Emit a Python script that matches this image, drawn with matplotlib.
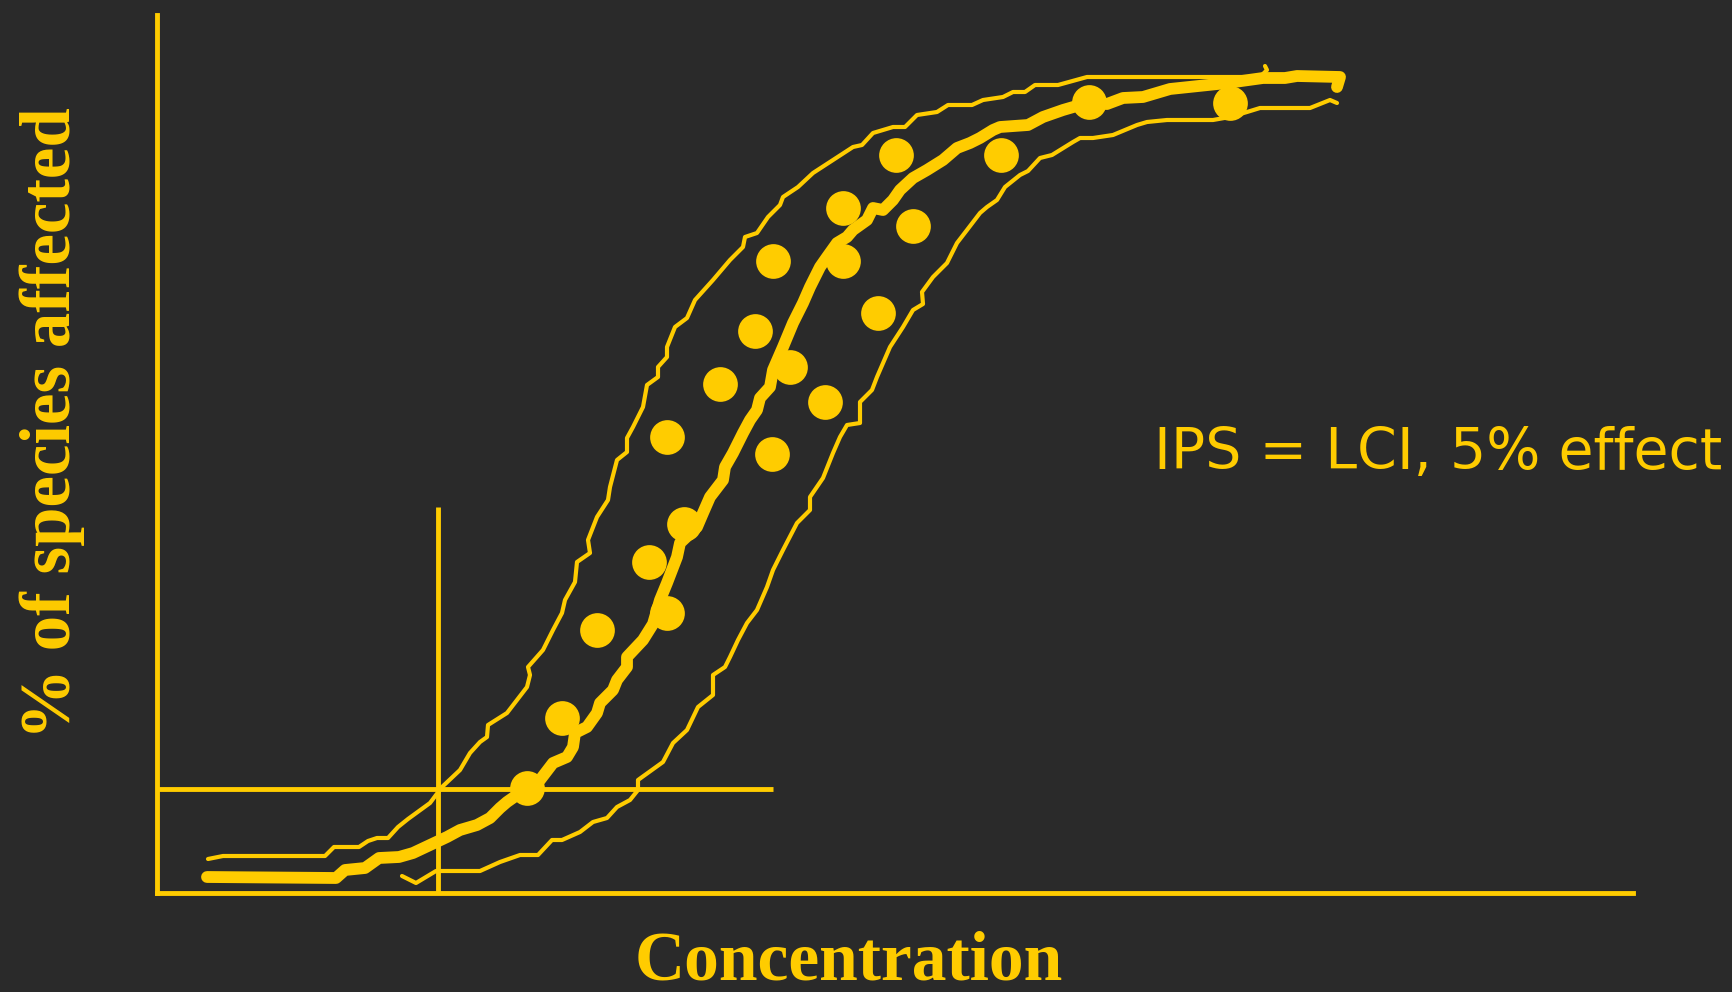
import matplotlib
matplotlib.use("Agg")
import matplotlib.pyplot as plt

# Species sensitivity distribution sketch: fitted curve, confidence band, species points
BG = "#2a2a2a"
YELLOW = "#ffcc00"

# Upper confidence limit (x: concentration units, y: % of species affected)
upper_x = [5.5, 7.0, 17.2, 18.1, 20.6, 21.5, 22.4, 23.5, 24.5, 25.5, 27.7, 28.9, 30.7, 31.7,
           32.7, 33.4, 33.5, 35.4, 36.4, 37.4, 37.7, 37.5, 39.0, 40.0, 40.9, 41.2, 42.2, 42.4,
           43.7, 43.5, 44.4, 45.5, 45.7, 46.4, 47.4, 47.4, 48.0, 49.0, 49.4, 50.5, 50.5, 51.4,
           51.4, 52.2, 53.4, 54.2, 56.0, 57.7, 59.0, 59.2, 60.4, 61.5, 62.7, 63.0, 64.5, 66.0,
           68.0, 70.0, 70.9, 72.0, 74.0, 75.2, 76.4, 78.4, 79.5, 81.9, 83.0, 85.0, 86.0, 87.2,
           88.2, 90.5, 93.4, 110.7, 111.4, 111.2]
upper_y = [3.4, 3.7, 3.7, 4.6, 4.6, 5.2, 5.5, 5.5, 6.6, 7.4, 9.0, 10.6, 12.3, 14.0,
           15.1, 15.6, 16.8, 18.0, 19.3, 20.6, 21.8, 22.6, 24.3, 26.3, 28.0, 29.3, 31.1, 33.1,
           34.0, 35.3, 37.6, 39.3, 40.6, 43.3, 44.1, 45.5, 46.6, 48.6, 50.8, 51.6, 52.6, 53.6,
           54.6, 56.6, 57.5, 59.3, 61.3, 63.3, 64.6, 65.6, 66.0, 67.6, 68.8, 69.6, 70.6, 72.0,
           73.3, 74.6, 74.8, 76.0, 76.6, 76.6, 77.8, 78.1, 78.8, 78.8, 79.3, 79.6, 80.1, 80.1,
           80.8, 80.8, 81.6, 81.6, 82.3, 82.7]

# Fitted distribution
fit_x = [5.4, 18.3, 19.2, 21.2, 22.6, 24.6, 26.0, 27.7, 29.4, 30.7, 32.4, 33.7, 34.7, 35.4,
         36.4, 37.4, 38.7, 40.0, 41.4, 42.0, 42.2, 43.4, 44.4, 44.7, 46.0, 46.4, 47.4, 47.4,
         49.0, 50.0, 50.7, 51.4, 52.4, 52.7, 54.4, 55.0, 55.7, 57.0, 57.2, 58.0, 59.0, 59.7,
         60.4, 60.7, 61.7, 62.0, 63.0, 64.0, 65.0, 65.7, 66.7, 67.4, 68.4, 69.4, 70.0, 71.4,
         72.0, 73.0, 74.0, 74.7, 76.0, 77.4, 79.0, 80.4, 81.7, 82.7, 84.0, 84.7, 87.5, 89.0,
         91.0, 93.4, 95.4, 97.0, 99.0, 101.7, 107.4, 111.0, 113.2, 114.4, 118.7, 118.4]
fit_y = [1.6, 1.5, 2.3, 2.5, 3.5, 3.6, 4.0, 4.8, 5.6, 6.3, 6.8, 7.5, 8.5, 9.1,
         9.8, 10.3, 11.3, 13.0, 13.6, 14.6, 16.0, 16.6, 18.0, 19.0, 20.3, 21.3, 22.6, 23.6,
         25.3, 26.9, 29.3, 31.0, 33.6, 35.0, 36.6, 38.0, 39.6, 41.3, 42.6, 44.0, 46.0, 47.3,
         48.3, 49.5, 50.6, 52.3, 54.6, 57.0, 59.0, 60.6, 62.6, 63.6, 65.0, 65.6, 66.3, 67.3,
         68.5, 68.3, 69.3, 70.3, 71.5, 72.3, 73.3, 74.5, 75.0, 75.5, 76.3, 76.6, 76.8, 77.6,
         78.3, 79.0, 78.9, 79.5, 79.6, 80.4, 81.0, 81.5, 81.5, 81.7, 81.6, 80.6]

# Lower confidence limit
lower_x = [24.9, 26.3, 28.3, 32.7, 34.7, 36.7, 38.5, 39.9, 40.9, 42.7, 44.0, 45.4, 46.4, 47.7,
           48.5, 48.5, 51.0, 52.0, 53.4, 54.5, 56.0, 56.0, 57.2, 57.7, 58.5, 59.4, 60.4, 61.4,
           62.0, 63.0, 64.4, 65.7, 65.7, 67.0, 68.0, 68.7, 69.4, 70.7, 70.7, 71.9, 72.4, 73.7,
           75.0, 76.0, 77.0, 76.9, 78.0, 79.4, 80.4, 81.4, 82.7, 83.4, 84.4, 85.2, 86.7, 87.5,
           88.7, 89.9, 92.0, 92.7, 94.0, 96.0, 97.2, 98.4, 99.4, 101.4, 106.0, 107.7, 109.4,
           110.7, 115.7, 117.7, 118.4]
lower_y = [1.7, 1.0, 2.2, 2.2, 3.1, 3.8, 3.8, 5.3, 5.3, 6.1, 7.1, 7.5, 8.6, 9.3,
           10.3, 11.3, 13.1, 15.0, 16.3, 18.6, 19.8, 21.8, 22.6, 23.6, 25.3, 27.0, 28.3, 30.6,
           32.3, 34.3, 37.0, 38.3, 39.6, 41.5, 44.0, 45.6, 46.8, 47.0, 49.1, 50.3, 51.6, 54.6,
           56.6, 58.3, 58.9, 60.1, 61.6, 63.0, 65.0, 66.3, 68.0, 68.6, 69.3, 70.6, 71.8, 72.2,
           73.5, 73.8, 75.1, 75.5, 75.5, 75.8, 76.3, 76.8, 77.1, 77.3, 77.3, 77.6, 78.1,
           78.5, 78.5, 79.3, 79.0]

# Individual species toxicity data
species_x = [37.4, 40.9, 44.4, 49.6, 51.4, 53.1, 51.4, 56.7, 60.2, 61.9, 63.7,
             67.2, 62.0, 69.0, 69.0, 72.5, 74.3, 76.0, 84.8, 93.6, 107.7]
species_y = [10.5, 17.5, 26.3, 33.1, 28.0, 36.9, 45.6, 50.9, 56.2, 43.9, 52.6,
             49.1, 63.2, 68.5, 63.2, 58.0, 73.8, 66.7, 73.8, 79.1, 79.0]

# Protection level and the matching concentration
effect_level = 10.4
effect_conc = 28.5
guide_x_end = 62.0
guide_y_end = 38.6

X_MIN, X_MAX = 0.45, 148.0
Y_MIN, Y_MAX = 0.0, 87.8

fig = plt.figure(figsize=(17.33, 9.92), dpi=100, facecolor=BG)
ax = fig.add_axes([157.5 / 1733, 1 - 893 / 992, 1475.5 / 1733, 878 / 992])
ax.set_facecolor(BG)
ax.set_xlim(X_MIN, X_MAX)
ax.set_ylim(Y_MIN, Y_MAX)

line_kw = dict(color=YELLOW, solid_capstyle="round", solid_joinstyle="round", clip_on=False)
ax.plot(upper_x, upper_y, lw=3.0, **line_kw)
ax.plot(lower_x, lower_y, lw=3.0, **line_kw)
ax.plot(fit_x, fit_y, lw=8.5, **line_kw)

ax.plot(species_x, species_y, "o", ms=25, color=YELLOW, mec="none", clip_on=False)

ax.plot([X_MIN, guide_x_end], [effect_level, effect_level], color=YELLOW, lw=3.5,
        solid_capstyle="butt")
ax.plot([effect_conc, effect_conc], [Y_MIN, guide_y_end], color=YELLOW, lw=3.5,
        solid_capstyle="butt")

for side in ("top", "right"):
    ax.spines[side].set_visible(False)
for side in ("left", "bottom"):
    ax.spines[side].set_color(YELLOW)
    ax.spines[side].set_linewidth(3.5)
ax.set_xticks([])
ax.set_yticks([])

serif = ["Liberation Serif", "DejaVu Serif"]
fig.text(849 / 1733, 1 - 980 / 992, "Concentration", color=YELLOW, fontsize=50,
         fontweight="bold", family=serif, ha="center", va="baseline")
fig.text(52 / 1733, 1 - 423 / 992, "% of species affected", color=YELLOW, fontsize=51,
         fontweight="bold", family=serif, ha="center", va="center", rotation=90)
fig.text(1722 / 1733, 1 - 453 / 992, "IPS = LCI, 5% effect", color=YELLOW, fontsize=41,
         family=["DejaVu Sans"], ha="right", va="center")

fig.savefig("out.png", dpi=100, facecolor=BG)
